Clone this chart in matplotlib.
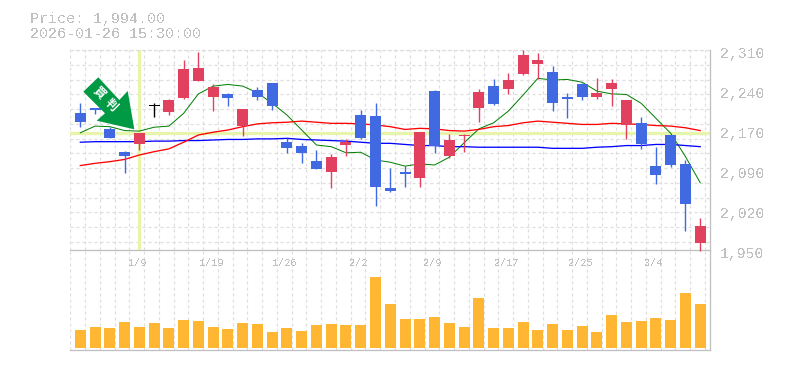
import matplotlib
matplotlib.use('Agg')
import matplotlib.pyplot as plt
from matplotlib.patches import Polygon

plt.rcParams['font.family'] = ['Liberation Mono', 'DejaVu Sans Mono']
plt.rcParams['text.antialiased'] = False

# Daily prices
opens = [2197, 2205, 2168, 2127, 2140, 2209, 2199, 2223, 2255, 2226, 2231, 2173, 2238, 2250, 2144,
         2137, 2110, 2090, 2139, 2193, 2191, 2062, 2090, 2080, 2236, 2119, 2155, 2206, 2245, 2240,
         2267, 2285, 2270, 2225, 2249, 2225, 2240, 2175, 2179, 2101, 2157, 2105, 1963]
highs = [2215, 2206, 2171, 2129, 2161, 2215, 2222, 2292, 2307, 2249, 2232, 2204, 2243, 2251, 2151,
         2143, 2130, 2123, 2150, 2202, 2215, 2098, 2101, 2162, 2238, 2159, 2159, 2240, 2258, 2269,
         2310, 2305, 2281, 2233, 2251, 2260, 2258, 2220, 2189, 2135, 2157, 2112, 2008]
lows = [2172, 2195, 2152, 2089, 2130, 2190, 2193, 2221, 2255, 2201, 2210, 2156, 2220, 2202, 2125,
        2107, 2096, 2062, 2119, 2150, 2029, 2054, 2063, 2063, 2125, 2116, 2126, 2180, 2211, 2231,
        2265, 2258, 2200, 2188, 2220, 2222, 2209, 2150, 2132, 2069, 2099, 1984, 1948]
closes = [2181, 2202, 2152, 2119, 2161, 2209, 2220, 2276, 2278, 2243, 2224, 2204, 2226, 2210, 2134,
          2125, 2096, 2117, 2144, 2152, 2063, 2056, 2087, 2162, 2137, 2148, 2157, 2234, 2213, 2256,
          2301, 2292, 2215, 2222, 2225, 2233, 2251, 2220, 2141, 2085, 2103, 2033, 1994]

ma_green = [2161, 2173, 2172, 2165, 2164, 2171, 2173, 2196, 2231, 2245, 2248, 2245, 2233, 2214, 2193,
            2166, 2139, 2136, 2125, 2126, 2112, 2108, 2101, 2105, 2103, 2117, 2143, 2168, 2179, 2200,
            2229, 2259, 2256, 2257, 2252, 2236, 2231, 2230, 2214, 2187, 2160, 2118, 2071]
ma_red = [2102, 2106, 2109, 2113, 2121, 2127, 2132, 2144, 2157, 2162, 2166, 2172, 2177, 2179, 2180,
          2182, 2180, 2178, 2178, 2177, 2175, 2172, 2167, 2169, 2168, 2165, 2164, 2167, 2172, 2174,
          2179, 2182, 2180, 2178, 2176, 2176, 2178, 2177, 2176, 2174, 2173, 2170, 2165]
ma_blue = [2144, 2145, 2145, 2145, 2145, 2146, 2146, 2147, 2147, 2148, 2149, 2149, 2150, 2150, 2151,
           2149, 2148, 2147, 2146, 2144, 2142, 2142, 2140, 2138, 2138, 2136, 2136, 2135, 2135, 2135,
           2135, 2135, 2133, 2133, 2133, 2135, 2136, 2138, 2138, 2140, 2140, 2138, 2136]

volumes = [18, 21, 20, 26, 21, 25, 20, 28, 27, 21, 19, 25, 24, 16, 20, 17, 23, 24, 23, 23, 71, 44,
           29, 29, 31, 25, 21, 50, 20, 20, 26, 18, 24, 18, 22, 16, 33, 26, 27, 30, 28, 55, 44]

price_ticks = [2310, 2238, 2166, 2094, 2022, 1950]
price_labels = ['2,310', '2,240', '2,170', '2,090', '2,020', '1,950']
date_ticks = [4, 9, 14, 19, 24, 29, 34, 39]
date_labels = ['1/9', '1/19', '1/26', '2/2', '2/9', '2/17', '2/25', '3/4']
signal_day = 4
signal_price = 2160

UP = '#E2405F'
DOWN = '#4169E1'
GRID = '#dddddd'
AXIS = '#c0c0c0'
TEXT = '#c0c0c0'
MARK = '#E6F5A9'
W, H = 785, 370
PX = 0.72  # one pixel in points at dpi 100


def px(x, y):
    """Picture pixel to figure fraction"""
    return x / W, 1 - y / H


def style_axes(ax):
    ax.set_xlim(-0.698, 42.66)
    for name in ['top', 'left']:
        ax.spines[name].set_visible(False)
    for name in ['bottom', 'right']:
        ax.spines[name].set_color(AXIS)
        ax.spines[name].set_linewidth(1.3 * PX)
    ax.tick_params(left=False, right=False, bottom=False, labelleft=False, labelbottom=False)
    ax.set_xticks([i + 0.32 for i in range(-1, 43)])
    ax.grid(True, axis='x', color=GRID, linewidth=1.2 * PX, linestyle=(0, (2.5, 2.5)))
    ax.set_axisbelow(True)
    ax.patch.set_alpha(0)


fig = plt.figure(figsize=(W / 100, H / 100), dpi=100)
ax = fig.add_axes([70 / W, 1 - 250 / H, 640 / W, 200 / H])
ax_vol = fig.add_axes([70 / W, 1 - 350 / H, 640 / W, 100 / H])

# Price panel
style_axes(ax)
ax.set_ylim(1950, 2310)
ax.set_yticks([2310 - 26.57 * k for k in range(14)])
ax.grid(True, axis='y', color=GRID, linewidth=1.2 * PX, linestyle=(0, (2.5, 2.5)))
ax.spines['top'].set_visible(True)
ax.spines['top'].set_color(GRID)
ax.spines['top'].set_linestyle((0, (2.5, 2.5)))
ax.spines['top'].set_linewidth(1.2 * PX)

ax.axvline(signal_day, color=MARK, linewidth=3.3 * PX, zorder=1)
ax.axhline(signal_price, color=MARK, linewidth=3.3 * PX, zorder=1)

days = range(len(closes))
ax.plot(days, ma_green, color='#008000', linewidth=1.0 * PX, zorder=2)
ax.plot(days, ma_blue, color='#0000ff', linewidth=1.3 * PX, zorder=2)
ax.plot(days, ma_red, color='#ff0000', linewidth=1.3 * PX, zorder=2)

for i in days:
    if closes[i] > opens[i]:
        color = UP
    elif closes[i] < opens[i]:
        color = DOWN
    else:
        color = 'black'
    ax.vlines(i, lows[i], highs[i], color=color, linewidth=1.4 * PX, zorder=3, clip_on=False)
    body = max(abs(closes[i] - opens[i]), 1.8)
    ax.bar(i, body, width=0.745, bottom=min(opens[i], closes[i]), color=color, zorder=3)

for value, label in zip(price_ticks, price_labels):
    ax.annotate(label, xy=(1, value), xycoords=('axes fraction', 'data'), xytext=(10, -4),
                textcoords='offset pixels', color=TEXT, fontsize=10.6, ha='left', va='center',
                annotation_clip=False)

# Volume panel
style_axes(ax_vol)
ax_vol.set_ylim(-1.7, 98.3)
ax_vol.set_yticks([])
ax_vol.bar(list(days), volumes, width=0.745, color='#FFB733', zorder=3)
for day, label in zip(date_ticks, date_labels):
    ax_vol.annotate(label, xy=(day, 1), xycoords=('data', 'axes fraction'), xytext=(-2, -13),
                    textcoords='offset pixels', color=TEXT, fontsize=7.4, ha='center', va='center')

# Title lines
fig.text(*px(30, 19), 'Price: 1,994.00', color=TEXT, fontsize=10.8, ha='left', va='center')
fig.text(*px(30, 34), '2026-01-26 15:30:00', color=TEXT, fontsize=10.8, ha='left', va='center')

# Signal arrow
arrow = [(98.3, 77.3), (119.3, 100), (127.7, 91), (134.3, 129.3), (96.7, 120.7), (105, 113.3), (83.3, 91.7)]
fig.add_artist(Polygon([px(x, y) for x, y in arrow], closed=True, transform=fig.transFigure,
                       facecolor='#009944', edgecolor='none', zorder=5))
for (x, y), mark in zip([(99, 93), (111, 105)], ['買', '判']):
    fig.text(*px(x, y), mark, color='white', fontsize=8.5, rotation=-45, ha='center', va='center',
             family=['Noto Sans CJK JP', 'DejaVu Sans'], fontweight='bold', zorder=6, antialiased=True)

fig.savefig('out.png', dpi=100)
